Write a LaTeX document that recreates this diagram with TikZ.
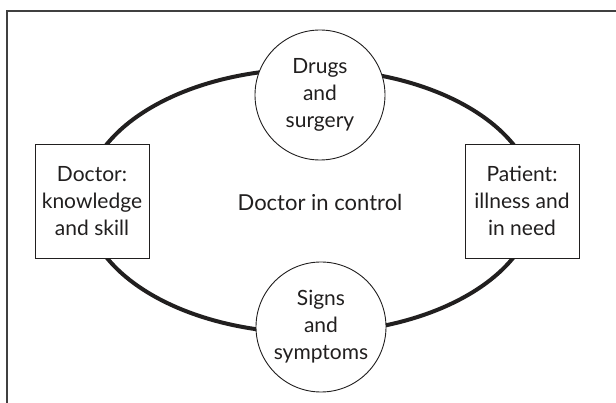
\documentclass[tikz,border=0pt]{standalone}
\usepackage{fontspec}
\setmainfont{Lato}
\definecolor{ink}{rgb}{0.13, 0.12, 0.12}

\begin{document}
\begin{tikzpicture}[x=1pt, y=-1pt,
  every node/.style={font=\fontsize{21}{27}\selectfont, text=ink, align=center, inner sep=0pt},
  box/.style={draw=ink, line width=0.9pt, fill=white, minimum size=114pt},
  disc/.style={draw=ink, circle, line width=0.9pt, fill=white, minimum size=130pt}]
\useasboundingbox (0, 0) rectangle (616, 403);
\draw[line width=1.2pt, black!75] (7, 403) -- (7, 11) -- (616, 11);
\draw[line width=4pt, ink] (310, 201) ellipse [x radius=225, y radius=132];
\node[box] (doctor) at (92, 201) {Doctor:\\knowledge\\and skill};
\node[box] (patient) at (522, 201) {Patient:\\illness and\\in need};
\node[disc] (drugs) at (320, 95) {Drugs\\and\\surgery};
\node[disc] (signs) at (321, 327) {Signs\\and\\symptoms};
\node[font=\fontsize{22}{27}\selectfont] (control) at (320, 202) {Doctor in control};
\end{tikzpicture}
\end{document}
